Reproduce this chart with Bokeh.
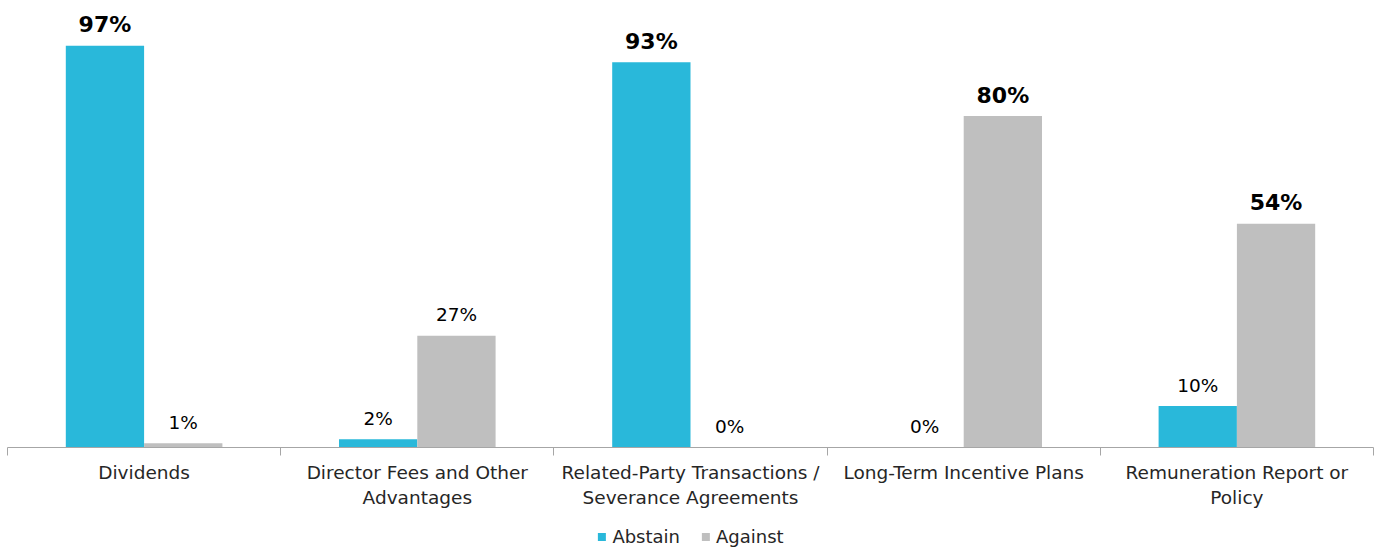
from bokeh.plotting import figure
from bokeh.layouts import column
from bokeh.models import (ColumnDataSource, Range1d, FixedTicker, Legend, LegendItem,
                          LinearAxis)
from bokeh.core.properties import value, field
from bokeh.embed import file_html
from bokeh.resources import INLINE

categories = ["Dividends", "Director Fees and Other\nAdvantages",
              "Related-Party Transactions /\nSeverance Agreements",
              "Long-Term Incentive Plans", "Remuneration Report or\nPolicy"]
series = ["Abstain", "Against"]
abstain = [97, 2, 93, 0, 10]
against = [1, 27, 0, 80, 54]

ABSTAIN_COLOR = "#29B8DA"
AGAINST_COLOR = "#BFBFBF"
FONT = "DejaVu Sans"

n = len(categories)
centers = [i + 0.5 for i in range(n)]
bw = 0.2866
off = bw / 2


def make_src(xs, vals):
    return ColumnDataSource(dict(
        x=xs, top=vals,
        label=[f"{v}%" for v in vals],
        style=["bold" if v >= 50 else "normal" for v in vals],
        size=["22px" if v >= 50 else "18.5px" for v in vals]))


src_ab = make_src([c - off for c in centers], abstain)
src_ag = make_src([c + off for c in centers], against)

p = figure(width=1381, height=525, output_backend="svg", toolbar_location=None,
           x_range=Range1d(0, n), y_range=Range1d(0, 106.7),
           min_border_left=7, min_border_right=8, min_border_top=5, min_border_bottom=78,
           x_axis_location=None, y_axis_location=None)
p.outline_line_color = None
p.xgrid.visible = False
p.ygrid.visible = False
p.background_fill_color = "white"
p.border_fill_color = "white"

p.vbar(x="x", top="top", width=bw, bottom=0, source=src_ab,
       fill_color=ABSTAIN_COLOR, line_color=None)
p.vbar(x="x", top="top", width=bw, bottom=0, source=src_ag,
       fill_color=AGAINST_COLOR, line_color=None)

for src in (src_ab, src_ag):
    p.text(x="x", y="top", text="label", source=src, text_align="center",
           text_baseline="alphabetic", y_offset=-21,
           text_font=value(FONT), text_font_size=field("size"),
           text_font_style=field("style"), text_color="black")

xaxis = LinearAxis(ticker=FixedTicker(ticks=centers, minor_ticks=list(range(n + 1))))
xaxis.major_label_overrides = {c: categories[i] for i, c in enumerate(centers)}
xaxis.major_tick_out = 0
xaxis.major_tick_in = 0
xaxis.minor_tick_out = 8
xaxis.minor_tick_in = 0
xaxis.minor_tick_line_color = "#A6A6A6"
xaxis.axis_line_color = "#A6A6A6"
xaxis.major_label_standoff = 6
xaxis.major_label_text_font = FONT
xaxis.major_label_text_font_size = "18.5px"
xaxis.major_label_text_color = "#262626"
p.add_layout(xaxis, "below")

# legend strip below the chart (hidden proxy renderers share the series data)
lg = figure(width=1381, height=22, output_backend="svg", toolbar_location=None,
            x_range=Range1d(0, n), y_range=Range1d(0, 106.7),
            min_border_left=0, min_border_right=0, min_border_top=0, min_border_bottom=0,
            x_axis_location=None, y_axis_location=None)
lg.outline_line_color = None
lg.xgrid.visible = False
lg.ygrid.visible = False
lg.background_fill_color = "white"
lg.border_fill_color = "white"
proxy_ab = lg.vbar(x="x", top="top", width=bw, source=src_ab,
                   fill_color=ABSTAIN_COLOR, line_color=None, visible=False)
proxy_ag = lg.vbar(x="x", top="top", width=bw, source=src_ag,
                   fill_color=AGAINST_COLOR, line_color=None, visible=False)
legend = Legend(items=[LegendItem(label=series[0], renderers=[proxy_ab]),
                       LegendItem(label=series[1], renderers=[proxy_ag])],
                orientation="horizontal", location="center",
                glyph_width=10, glyph_height=10, label_standoff=6, spacing=20,
                label_text_font=FONT, label_text_font_size="18px",
                label_text_color="#262626", border_line_color=None,
                background_fill_alpha=0, padding=0, margin=0,
                inactive_fill_alpha=0)
lg.add_layout(legend, "center")

layout = column(p, lg, spacing=0)
open("out.html", "w").write(file_html(layout, INLINE))
